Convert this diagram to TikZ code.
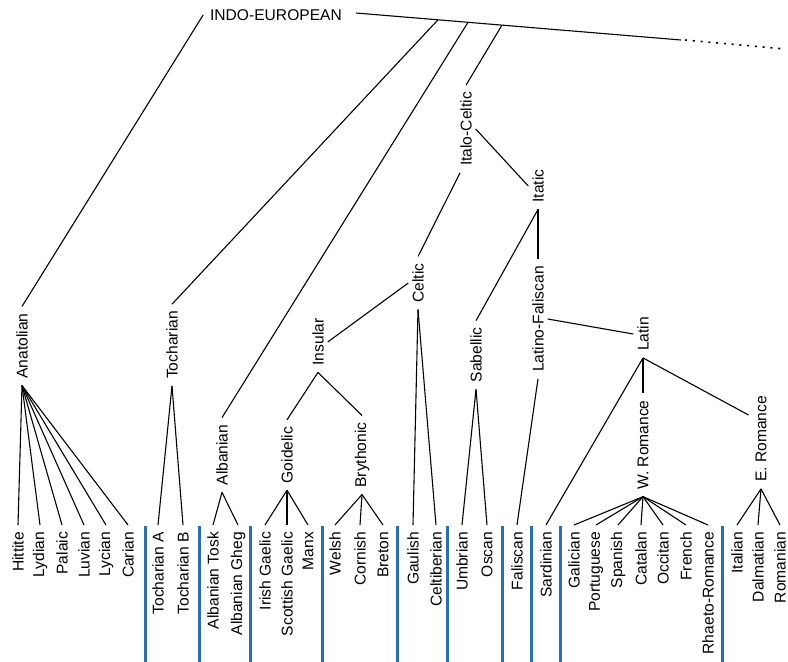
\documentclass[tikz,border=0pt]{standalone}
\usepackage{fontspec}
\setmainfont{Liberation Sans}
\usetikzlibrary{calc}
\definecolor{barblue}{RGB}{40,110,190}
\tikzset{
  lbl/.style={font=\fontsize{15.6}{18}\selectfont, inner xsep=7pt, inner ysep=4pt, outer sep=0pt},
  vlbl/.style={lbl, rotate=90},
  leaf/.style={vlbl, anchor=east},
  edge/.style={line width=1.1pt},
  bar/.style={draw=barblue, line width=3pt},
}
\begin{document}
\begin{tikzpicture}[x=1pt,y=-1pt]
\useasboundingbox (0,0) rectangle (788,662);
% root
\node[lbl] (IE) at (276,15) {INDO-EUROPEAN};
% internal nodes
\node[vlbl] (ana) at (22,346) {Anatolian};
\node[vlbl] (toc) at (172,345) {Tocharian};
\node[vlbl] (alb) at (222,455) {Albanian};
\node[vlbl] (itc) at (466,129) {Italo-Celtic};
\node[vlbl] (itt) at (538,186) {Itatic};
\node[vlbl] (clt) at (418,283) {Celtic};
\node[vlbl] (ins) at (318,342) {Insular};
\node[vlbl] (goi) at (287,455) {Goidelic};
\node[vlbl] (bry) at (362,455) {Brythonic};
\node[vlbl] (sab) at (476,355) {Sabellic};
\node[vlbl] (laf) at (538,319) {Latino-Faliscan};
\node[vlbl] (lat) at (643,334) {Latin};
\node[vlbl] (wro) at (643,445) {W. Romance};
\node[vlbl] (ero) at (761,439) {E. Romance};
% leaves
\node[leaf] (hit) at (18,525) {Hittite};
\node[leaf] (lyd) at (40,525) {Lydian};
\node[leaf] (pal) at (62,525) {Palaic};
\node[leaf] (luv) at (84,525) {Luvian};
\node[leaf] (lyc) at (106,525) {Lycian};
\node[leaf] (car) at (128,525) {Carian};
\node[leaf] (tca) at (158,525) {Tocharian A};
\node[leaf] (tcb) at (183,525) {Tocharian B};
\node[leaf] (alt) at (213,525) {Albanian Tosk};
\node[leaf] (alg) at (238,525) {Albanian Gheg};
\node[leaf] (irg) at (265,525) {Irish Gaelic};
\node[leaf] (scg) at (287,525) {Scottish Gaelic};
\node[leaf] (mnx) at (308,525) {Manx};
\node[leaf] (wel) at (335,525) {Welsh};
\node[leaf] (cor) at (360,525) {Cornish};
\node[leaf] (bre) at (383,525) {Breton};
\node[leaf] (gau) at (413,525) {Gaulish};
\node[leaf] (cel) at (436,525) {Celtiberian};
\node[leaf] (umb) at (462,525) {Umbrian};
\node[leaf] (osc) at (487,525) {Oscan};
\node[leaf] (fal) at (517,525) {Faliscan};
\node[leaf] (sar) at (546,525) {Sardinian};
\node[leaf] (gal) at (574,525) {Galician};
\node[leaf] (por) at (596,525) {Portuguese};
\node[leaf] (spa) at (618,525) {Spanish};
\node[leaf] (cat) at (641,525) {Catalan};
\node[leaf] (occ) at (663,525) {Occitan};
\node[leaf] (fre) at (686,525) {French};
\node[leaf] (rha) at (708,525) {Rhaeto-Romance};
\node[leaf] (ita) at (737,525) {Italian};
\node[leaf] (dal) at (758,525) {Dalmatian};
\node[leaf] (rom) at (780,525) {Romanian};
% top line
\coordinate (t0) at (356,13);
\coordinate (t1) at (681,40);
\coordinate (t2) at (785,49);
\coordinate (b1) at (438,19.8);
\coordinate (b2) at (468,22.3);
\coordinate (b3) at (502,25.1);
\draw[edge] (t0) -- (t1);
\draw[line width=1.6pt, dash pattern=on 2pt off 5.8pt] ([xshift=4]t1) -- (t2);
% edges
\draw[edge] (IE.west) -- (ana.east);
\draw[edge] (b1) -- (toc.east);
\draw[edge] (b2) -- (alb.east);
\draw[edge] (b3) -- (itc.east);
\draw[edge] (itc.south) -- (itt.north);
\draw[edge] ([xshift=-6]itc.west) -- (clt.east);
\draw[edge] (ins.south) -- (clt.north);
\draw[edge] (clt.west) -- (gau.east);
\draw[edge] (clt.west) -- (cel.east);
\draw[edge] (ins.west) -- (goi.east);
\draw[edge] (ins.west) -- (bry.east);
\foreach \n in {irg,scg,mnx} \draw[edge] (goi.west) -- (\n.east);
\foreach \n in {wel,cor,bre} \draw[edge] (bry.west) -- (\n.east);
\foreach \n in {alt,alg} \draw[edge] (alb.west) -- (\n.east);
\foreach \n in {tca,tcb} \draw[edge] (toc.west) -- (\n.east);
\foreach \n in {hit,lyd,pal,luv,lyc,car} \draw[edge] (ana.west) -- (\n.east);
\draw[edge] (itt.west) -- (sab.east);
\draw[edge] (itt.west) -- (laf.east);
\foreach \n in {umb,osc} \draw[edge] (sab.west) -- (\n.east);
\draw[edge] (laf.west) -- (fal.east);
\draw[edge] (laf.south) -- (lat.north);
\draw[edge] (lat.west) -- (sar.east);
\draw[edge] (lat.west) -- (wro.east);
\draw[edge] (lat.west) -- ($(ero.north)+(-3,-24)$);
\foreach \n in {gal,por,spa,cat,occ,fre,rha} \draw[edge] (wro.west) -- (\n.east);
\foreach \n in {ita,dal,rom} \draw[edge] (ero.west) -- (\n.east);
% blue separators
\foreach \x in {145,199,250,322,397,447,502,531,560,722}
  \draw[bar] (\x,526) -- (\x,662);
\end{tikzpicture}
\end{document}
